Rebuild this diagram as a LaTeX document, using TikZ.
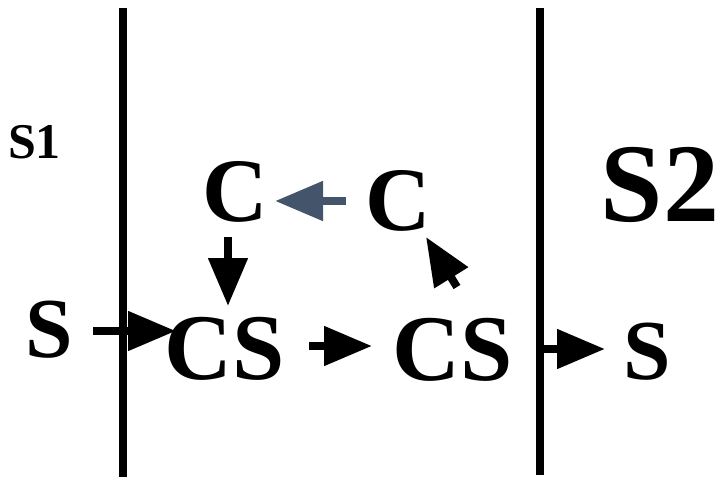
\documentclass[tikz,border=0pt]{standalone}
\usepackage{fontspec}
\setmainfont{Liberation Serif}
\usetikzlibrary{arrows.meta}
\definecolor{slate}{RGB}{68,84,106}
\tikzset{
  lbl/.style={anchor=base, inner sep=0pt, font=\bfseries},
  wall/.style={line width=6pt},
  arr/.style={line width=6pt, -{Triangle[length=36pt, width=28.5pt]}},
}
\begin{document}
\begin{tikzpicture}[x=0.75pt, y=-0.75pt]
\useasboundingbox (0,0) rectangle (721,479);
% walls
\coordinate (wLt) at (123,8);
\coordinate (wLb) at (123,477);
\coordinate (wRt) at (540,8);
\coordinate (wRb) at (540,475);
\draw[wall] (wLt) -- (wLb);
\draw[wall] (wRt) -- (wRb);
% labels
\node[lbl, font=\bfseries\fontsize{37.5}{40}\selectfont] (s1) at (34.5,158) {S1};
\node[lbl, font=\bfseries\fontsize{84}{90}\selectfont] (s2) at (660,221) {S2};
\node[lbl, font=\bfseries\fontsize{68}{72}\selectfont] (c1) at (235.5,221.5) {C};
\node[lbl, font=\bfseries\fontsize{68}{72}\selectfont] (c2) at (398,230.5) {C};
\node[lbl, font=\bfseries\fontsize{64}{70}\selectfont] (sl) at (49,357) {S};
\node[lbl, font=\bfseries\fontsize{70.5}{76}\selectfont] (cs1) at (225,379) {CS};
\node[lbl, font=\bfseries\fontsize{70.5}{76}\selectfont] (cs2) at (452.5,380) {CS};
\node[lbl, font=\bfseries\fontsize{64}{70}\selectfont] (sr) at (647.5,379) {S};
% arrow ends
\coordinate (a1s) at (93,331);
\coordinate (a1e) at (176,331);
\coordinate (a2s) at (309,346);
\coordinate (a2e) at (372,346);
\coordinate (a3s) at (544,349);
\coordinate (a3e) at (605,349);
\coordinate (a4s) at (346,201);
\coordinate (a4e) at (275,201);
\coordinate (a5s) at (228,237);
\coordinate (a5e) at (228,306);
\coordinate (a6s) at (457,287);
\coordinate (a6e) at (426,237);
\draw[arr] (a1s) -- (a1e);
\draw[arr] (a2s) -- (a2e);
\draw[arr] (a3s) -- (a3e);
\draw[arr, draw=slate, fill=slate] (a4s) -- (a4e);
\draw[arr] (a5s) -- (a5e);
\draw[arr] (a6s) -- (a6e);
\end{tikzpicture}
\end{document}
